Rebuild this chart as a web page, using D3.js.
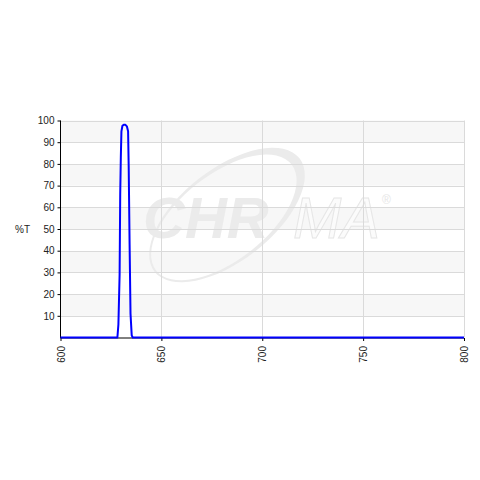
<!DOCTYPE html>
<html><head><meta charset="utf-8">
<script src="https://cdn.jsdelivr.net/npm/d3@7"></script>
<style>html,body{margin:0;padding:0;background:#fff;}svg{display:block;}</style>
</head><body>
<svg id="c" width="480" height="480"></svg>
<script>
// Data
const wavelengths = [600, 628.2, 628.7, 629.3, 629.6, 629.9, 630.2, 630.7, 631.3, 632.2, 632.9, 633.5, 633.8, 634.25, 634.7, 635.3, 635.8, 800];
const transmission = [0, 0, 6, 29, 66, 83, 95, 97.6, 98, 98, 97.3, 95, 79, 43, 11, 1, 0, 0];
const xTicks = [600, 650, 700, 750, 800];
const yTicks = [10, 20, 30, 40, 50, 60, 70, 80, 90, 100];
const yBands = [0, 10, 20, 30, 40, 50, 60, 70, 80, 90];
const yLabel = "%T";

const svg = d3.select("#c");
const x = d3.scaleLinear().domain([600, 800]).range([60.5, 464]);
const y = d3.scaleLinear().domain([0, 100]).range([337.5, 120.5]);

// alternating bands
svg.append("g").selectAll("rect").data(yBands).join("rect")
  .attr("x", x(600)).attr("width", x(800) - x(600))
  .attr("y", d => y(d + 10)).attr("height", d => y(d) - y(d + 10))
  .attr("fill", d => (d / 10) % 2 === 1 ? "#f7f7f7" : "#ffffff");

// watermark
const wm = svg.append("g");
function ell(cx, cy, rx, ry) {
  return `M${cx - rx},${cy}a${rx},${ry} 0 1,0 ${2 * rx},0a${rx},${ry} 0 1,0 ${-2 * rx},0Z`;
}
wm.append("path")
  .attr("d", ell(0, 0, 92, 46) + ell(-4, 0, 86, 43))
  .attr("fill-rule", "evenodd")
  .attr("transform", "translate(227,215) rotate(-38)")
  .attr("fill", "#ebebeb");
wm.append("text").attr("x", 143).attr("y", 238).text("CHR")
  .attr("font-family", "Liberation Sans, Arial, sans-serif").attr("font-weight", "bold")
  .attr("font-style", "italic").attr("font-size", 58).attr("fill", "#ebebeb");
wm.append("text").attr("x", 293).attr("y", 238).text("MA")
  .attr("font-family", "Liberation Sans, Arial, sans-serif")
  .attr("font-style", "italic").attr("font-size", 58).attr("fill", "#fbfbfb")
  .attr("stroke", "#e6e6e6").attr("stroke-width", 1);
wm.append("text").attr("x", 382).attr("y", 204).text("®")
  .attr("font-family", "Liberation Sans, Arial, sans-serif")
  .attr("font-size", 12).attr("fill", "#e6e6e6");

// gridlines
svg.append("g").selectAll("line").data(yTicks).join("line")
  .attr("x1", x(600)).attr("x2", x(800))
  .attr("y1", d => Math.round(y(d)) + 0.5).attr("y2", d => Math.round(y(d)) + 0.5)
  .attr("stroke", "#dadada");
svg.append("g").selectAll("line").data(xTicks.slice(1)).join("line")
  .attr("x1", d => Math.round(x(d)) + 0.5).attr("x2", d => Math.round(x(d)) + 0.5)
  .attr("y1", y(100)).attr("y2", y(0))
  .attr("stroke", "#dadada");

// axes
const yAxis = d3.axisLeft(y).tickValues(yTicks).tickSize(3).tickPadding(3);
const gy = svg.append("g").attr("transform", "translate(60.5,0)").call(yAxis);
gy.select(".domain").attr("d", `M0,${y(100)}V${y(0) + 0.5}`).attr("stroke", "#000");
gy.selectAll(".tick line").attr("stroke", "#000");
gy.selectAll("text").attr("font-family", "Liberation Sans, Arial, sans-serif")
  .attr("font-size", 10).attr("fill", "#222");

const xAxis = d3.axisBottom(x).tickValues(xTicks).tickSize(3).tickPadding(0);
const gx = svg.append("g").attr("transform", "translate(0,338)").call(xAxis);
gx.select(".domain").attr("d", `M${x(600)},0H${x(800)}`).attr("stroke", "#000");
gx.selectAll(".tick line").attr("stroke", "#000");
gx.selectAll("text").attr("font-family", "Liberation Sans, Arial, sans-serif")
  .attr("font-size", 10).attr("fill", "#222")
  .attr("transform", "rotate(-90)").attr("text-anchor", "end")
  .attr("x", -8).attr("y", 0).attr("dy", "0.35em");

svg.append("text").attr("x", 15).attr("y", 233).text(yLabel)
  .attr("font-family", "Liberation Sans, Arial, sans-serif")
  .attr("font-size", 10).attr("fill", "#222");

// curve
const pts = wavelengths.map((w, i) => [w, transmission[i]]);
svg.append("path").datum(pts)
  .attr("d", d3.line().x(d => x(d[0])).y(d => y(d[1])))
  .attr("fill", "none").attr("stroke", "#0000ff").attr("stroke-width", 2)
  .attr("stroke-linejoin", "round");
</script>
</body></html>
